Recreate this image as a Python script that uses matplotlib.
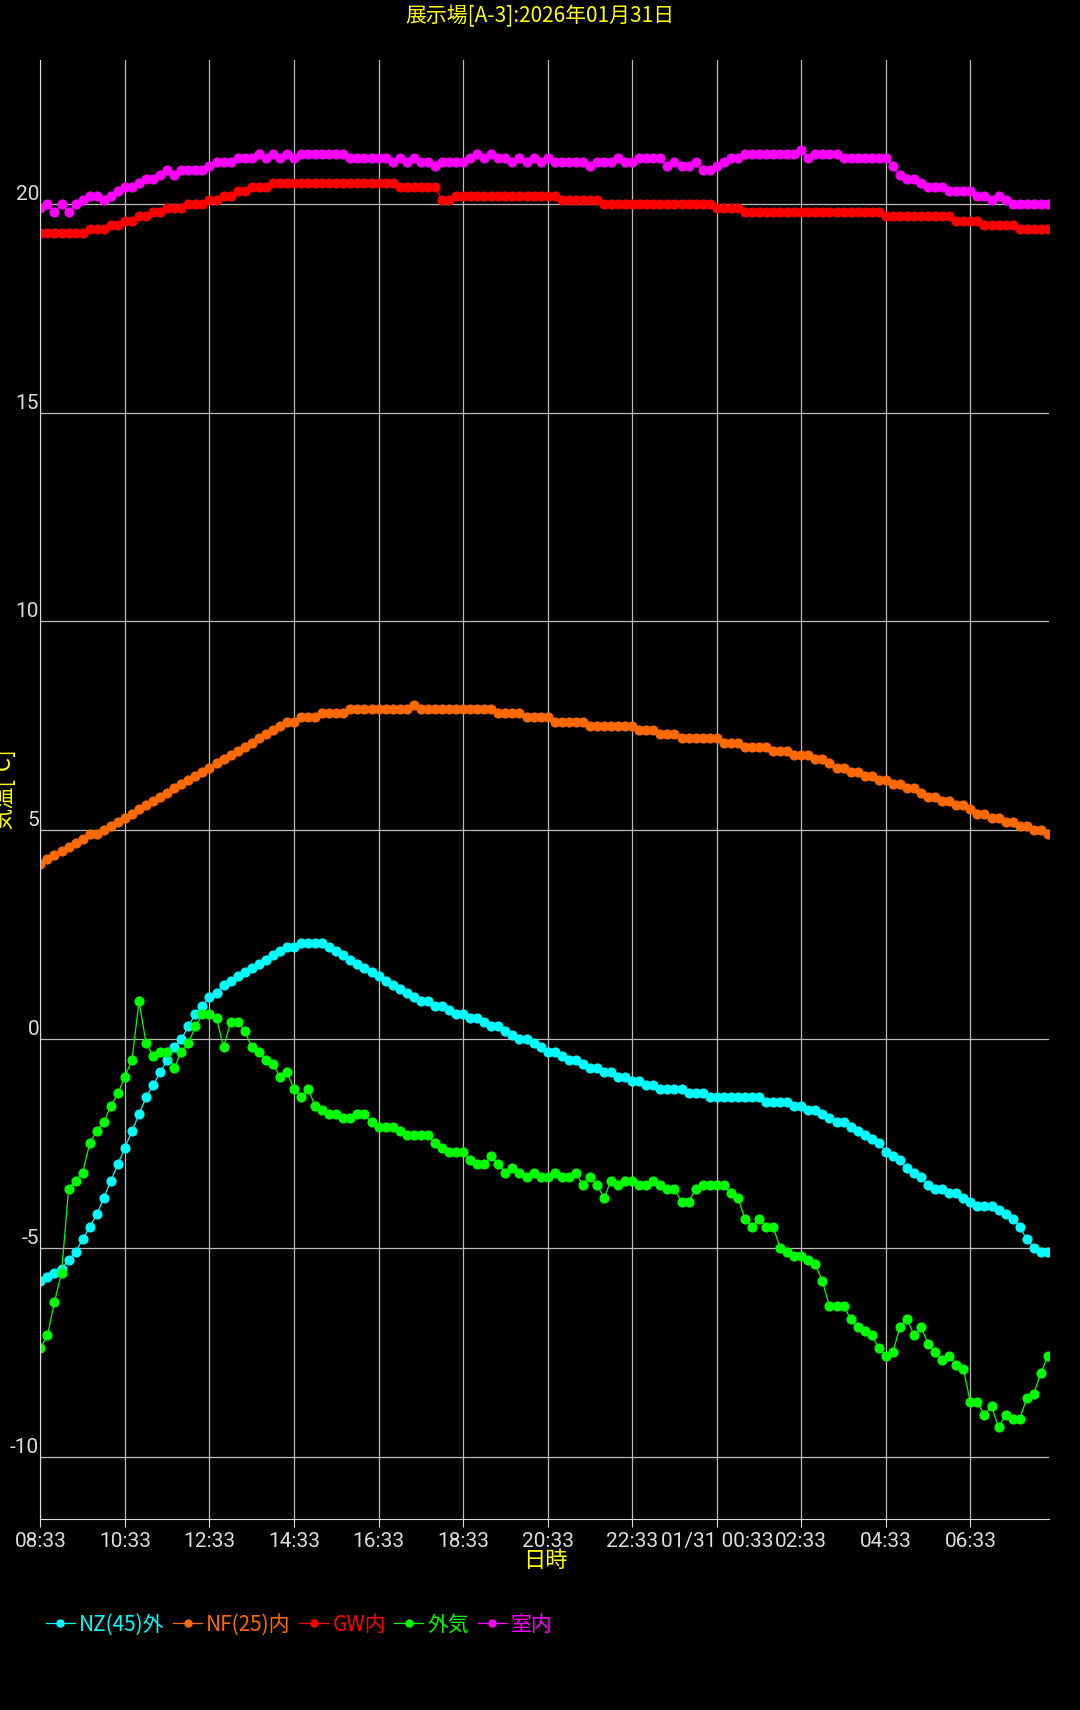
import numpy as np
import matplotlib
matplotlib.use("Agg")
import matplotlib.pyplot as plt

plt.rcParams['font.family'] = ['Roboto', 'Noto Sans CJK JP', 'DejaVu Sans']
plt.rcParams['axes.unicode_minus'] = False

title = "展示場[A-3]:2026年01月31日"
tick_labels = ["08:33", "10:33", "12:33", "14:33", "16:33", "18:33", "20:33",
               "22:33", "01/31 00:33", "02:33", "04:33", "06:33"]

# 10-minute samples starting 08:33, one row per hour
nz45 = [
    -5.8, -5.7, -5.6, -5.5, -5.3, -5.1,
    -4.8, -4.5, -4.2, -3.8, -3.4, -3.0,
    -2.6, -2.2, -1.8, -1.4, -1.1, -0.8,
    -0.5, -0.2, 0.0, 0.3, 0.6, 0.8,
    1.0, 1.1, 1.3, 1.4, 1.5, 1.6,
    1.7, 1.8, 1.9, 2.0, 2.1, 2.2,
    2.2, 2.3, 2.3, 2.3, 2.3, 2.2,
    2.1, 2.0, 1.9, 1.8, 1.7, 1.6,
    1.5, 1.4, 1.3, 1.2, 1.1, 1.0,
    0.9, 0.9, 0.8, 0.8, 0.7, 0.6,
    0.6, 0.5, 0.5, 0.4, 0.3, 0.3,
    0.2, 0.1, 0.0, 0.0, -0.1, -0.2,
    -0.3, -0.3, -0.4, -0.5, -0.5, -0.6,
    -0.7, -0.7, -0.8, -0.8, -0.9, -0.9,
    -1.0, -1.0, -1.1, -1.1, -1.2, -1.2,
    -1.2, -1.2, -1.3, -1.3, -1.3, -1.4,
    -1.4, -1.4, -1.4, -1.4, -1.4, -1.4,
    -1.4, -1.5, -1.5, -1.5, -1.5, -1.6,
    -1.6, -1.7, -1.7, -1.8, -1.9, -2.0,
    -2.0, -2.1, -2.2, -2.3, -2.4, -2.5,
    -2.7, -2.8, -2.9, -3.1, -3.2, -3.3,
    -3.5, -3.6, -3.6, -3.7, -3.7, -3.8,
    -3.9, -4.0, -4.0, -4.0, -4.1, -4.2,
    -4.3, -4.5, -4.8, -5.0, -5.1, -5.1,
]
nf25 = [
    4.2, 4.3, 4.4, 4.5, 4.6, 4.7,
    4.8, 4.9, 4.9, 5.0, 5.1, 5.2,
    5.3, 5.4, 5.5, 5.6, 5.7, 5.8,
    5.9, 6.0, 6.1, 6.2, 6.3, 6.4,
    6.5, 6.6, 6.7, 6.8, 6.9, 7.0,
    7.1, 7.2, 7.3, 7.4, 7.5, 7.6,
    7.6, 7.7, 7.7, 7.7, 7.8, 7.8,
    7.8, 7.8, 7.9, 7.9, 7.9, 7.9,
    7.9, 7.9, 7.9, 7.9, 7.9, 8.0,
    7.9, 7.9, 7.9, 7.9, 7.9, 7.9,
    7.9, 7.9, 7.9, 7.9, 7.9, 7.8,
    7.8, 7.8, 7.8, 7.7, 7.7, 7.7,
    7.7, 7.6, 7.6, 7.6, 7.6, 7.6,
    7.5, 7.5, 7.5, 7.5, 7.5, 7.5,
    7.5, 7.4, 7.4, 7.4, 7.3, 7.3,
    7.3, 7.2, 7.2, 7.2, 7.2, 7.2,
    7.2, 7.1, 7.1, 7.1, 7.0, 7.0,
    7.0, 7.0, 6.9, 6.9, 6.9, 6.8,
    6.8, 6.8, 6.7, 6.7, 6.6, 6.5,
    6.5, 6.4, 6.4, 6.3, 6.3, 6.2,
    6.2, 6.1, 6.1, 6.0, 6.0, 5.9,
    5.8, 5.8, 5.7, 5.7, 5.6, 5.6,
    5.5, 5.4, 5.4, 5.3, 5.3, 5.2,
    5.2, 5.1, 5.1, 5.0, 5.0, 4.9,
]
gw = [
    19.3, 19.3, 19.3, 19.3, 19.3, 19.3,
    19.3, 19.4, 19.4, 19.4, 19.5, 19.5,
    19.6, 19.6, 19.7, 19.7, 19.8, 19.8,
    19.9, 19.9, 19.9, 20.0, 20.0, 20.0,
    20.1, 20.1, 20.2, 20.2, 20.3, 20.3,
    20.4, 20.4, 20.4, 20.5, 20.5, 20.5,
    20.5, 20.5, 20.5, 20.5, 20.5, 20.5,
    20.5, 20.5, 20.5, 20.5, 20.5, 20.5,
    20.5, 20.5, 20.5, 20.4, 20.4, 20.4,
    20.4, 20.4, 20.4, 20.1, 20.1, 20.2,
    20.2, 20.2, 20.2, 20.2, 20.2, 20.2,
    20.2, 20.2, 20.2, 20.2, 20.2, 20.2,
    20.2, 20.2, 20.1, 20.1, 20.1, 20.1,
    20.1, 20.1, 20.0, 20.0, 20.0, 20.0,
    20.0, 20.0, 20.0, 20.0, 20.0, 20.0,
    20.0, 20.0, 20.0, 20.0, 20.0, 20.0,
    19.9, 19.9, 19.9, 19.9, 19.8, 19.8,
    19.8, 19.8, 19.8, 19.8, 19.8, 19.8,
    19.8, 19.8, 19.8, 19.8, 19.8, 19.8,
    19.8, 19.8, 19.8, 19.8, 19.8, 19.8,
    19.7, 19.7, 19.7, 19.7, 19.7, 19.7,
    19.7, 19.7, 19.7, 19.7, 19.6, 19.6,
    19.6, 19.6, 19.5, 19.5, 19.5, 19.5,
    19.5, 19.4, 19.4, 19.4, 19.4, 19.4,
]
outside = [
    -7.4, -7.1, -6.3, -5.6, -3.6, -3.4,
    -3.2, -2.5, -2.2, -2.0, -1.6, -1.3,
    -0.9, -0.5, 0.9, -0.1, -0.4, -0.3,
    -0.3, -0.7, -0.3, -0.1, 0.3, 0.6,
    0.6, 0.5, -0.2, 0.4, 0.4, 0.2,
    -0.2, -0.3, -0.5, -0.6, -0.9, -0.8,
    -1.2, -1.4, -1.2, -1.6, -1.7, -1.8,
    -1.8, -1.9, -1.9, -1.8, -1.8, -2.0,
    -2.1, -2.1, -2.1, -2.2, -2.3, -2.3,
    -2.3, -2.3, -2.5, -2.6, -2.7, -2.7,
    -2.7, -2.9, -3.0, -3.0, -2.8, -3.0,
    -3.2, -3.1, -3.2, -3.3, -3.2, -3.3,
    -3.3, -3.2, -3.3, -3.3, -3.2, -3.5,
    -3.3, -3.5, -3.8, -3.4, -3.5, -3.4,
    -3.4, -3.5, -3.5, -3.4, -3.5, -3.6,
    -3.6, -3.9, -3.9, -3.6, -3.5, -3.5,
    -3.5, -3.5, -3.7, -3.8, -4.3, -4.5,
    -4.3, -4.5, -4.5, -5.0, -5.1, -5.2,
    -5.2, -5.3, -5.4, -5.8, -6.4, -6.4,
    -6.4, -6.7, -6.9, -7.0, -7.1, -7.4,
    -7.6, -7.5, -6.9, -6.7, -7.1, -6.9,
    -7.3, -7.5, -7.7, -7.6, -7.8, -7.9,
    -8.7, -8.7, -9.0, -8.8, -9.3, -9.0,
    -9.1, -9.1, -8.6, -8.5, -8.0, -7.6,
]
indoor = [
    19.9, 20.0, 19.8, 20.0, 19.8, 20.0,
    20.1, 20.2, 20.2, 20.1, 20.2, 20.3,
    20.4, 20.4, 20.5, 20.6, 20.6, 20.7,
    20.8, 20.7, 20.8, 20.8, 20.8, 20.8,
    20.9, 21.0, 21.0, 21.0, 21.1, 21.1,
    21.1, 21.2, 21.1, 21.2, 21.1, 21.2,
    21.1, 21.2, 21.2, 21.2, 21.2, 21.2,
    21.2, 21.2, 21.1, 21.1, 21.1, 21.1,
    21.1, 21.1, 21.0, 21.1, 21.0, 21.1,
    21.0, 21.0, 20.9, 21.0, 21.0, 21.0,
    21.0, 21.1, 21.2, 21.1, 21.2, 21.1,
    21.1, 21.0, 21.1, 21.0, 21.1, 21.0,
    21.1, 21.0, 21.0, 21.0, 21.0, 21.0,
    20.9, 21.0, 21.0, 21.0, 21.1, 21.0,
    21.0, 21.1, 21.1, 21.1, 21.1, 20.9,
    21.0, 20.9, 20.9, 21.0, 20.8, 20.8,
    20.9, 21.0, 21.1, 21.1, 21.2, 21.2,
    21.2, 21.2, 21.2, 21.2, 21.2, 21.2,
    21.3, 21.1, 21.2, 21.2, 21.2, 21.2,
    21.1, 21.1, 21.1, 21.1, 21.1, 21.1,
    21.1, 20.9, 20.7, 20.6, 20.6, 20.5,
    20.4, 20.4, 20.4, 20.3, 20.3, 20.3,
    20.3, 20.2, 20.2, 20.1, 20.2, 20.1,
    20.0, 20.0, 20.0, 20.0, 20.0, 20.0,
]

series = [
    ("NZ(45)外", nz45, "#00ffff"),
    ("NF(25)内", nf25, "#ff6a00"),
    ("GW内", gw, "#ff0000"),
    ("外気", outside, "#00ff00"),
    ("室内", indoor, "#ff00ff"),
]

hours = np.arange(len(nz45)) / 6.0

fig = plt.figure(figsize=(10.8, 17.1), dpi=100, facecolor="black")
ax = fig.add_axes([0.0374, 0.1116, 0.9343, 0.8534], facecolor="black")

handles = []
for name, vals, col in series:
    h, = ax.plot(hours, vals, color=col, lw=0.9, marker="o", ms=6.3,
                 label=name)
    handles.append(h)

ax.set_xlim(0, 23.87)
ax.set_ylim(-11.5, 23.45)
ax.set_xticks(np.arange(0, 24, 2))
ax.set_xticklabels(tick_labels)
ax.set_yticks(np.arange(-10, 21, 5))
ax.grid(True, color="#bbbbbb", lw=0.9)
for s in ["top", "right"]:
    ax.spines[s].set_visible(False)
for s in ["left", "bottom"]:
    ax.spines[s].set_color("#dddddd")
ax.tick_params(colors="#dddddd", labelsize=15, length=6)
ax.tick_params(axis="y", pad=1, length=0)
for lbl in ax.get_yticklabels():
    lbl.set_verticalalignment("bottom")

ax.set_xlabel("日時", color="#ffff00", fontsize=16, labelpad=-2,
              family=['Noto Sans CJK JP', 'DejaVu Sans'])
ax.set_ylabel("気温[℃]", color="#ffff00", fontsize=16, labelpad=-4,
              family=['Noto Sans CJK JP', 'DejaVu Sans'])
fig.text(0.5, 0.997, title, color="#ffff00", fontsize=15,
         ha="center", va="top", family=['Noto Sans CJK JP', 'DejaVu Sans'])

fig.legend(handles=handles, loc="lower left", bbox_to_anchor=(0.025, 0.0325),
           ncol=5, frameon=False, fontsize=15, labelcolor="linecolor",
           handlelength=1.4, handletextpad=0.2, columnspacing=0.4,
           markerscale=0.8, prop={'family': ['Noto Sans CJK JP', 'DejaVu Sans'],
                                  'size': 15})

fig.savefig("out.png", dpi=100, facecolor="black")
